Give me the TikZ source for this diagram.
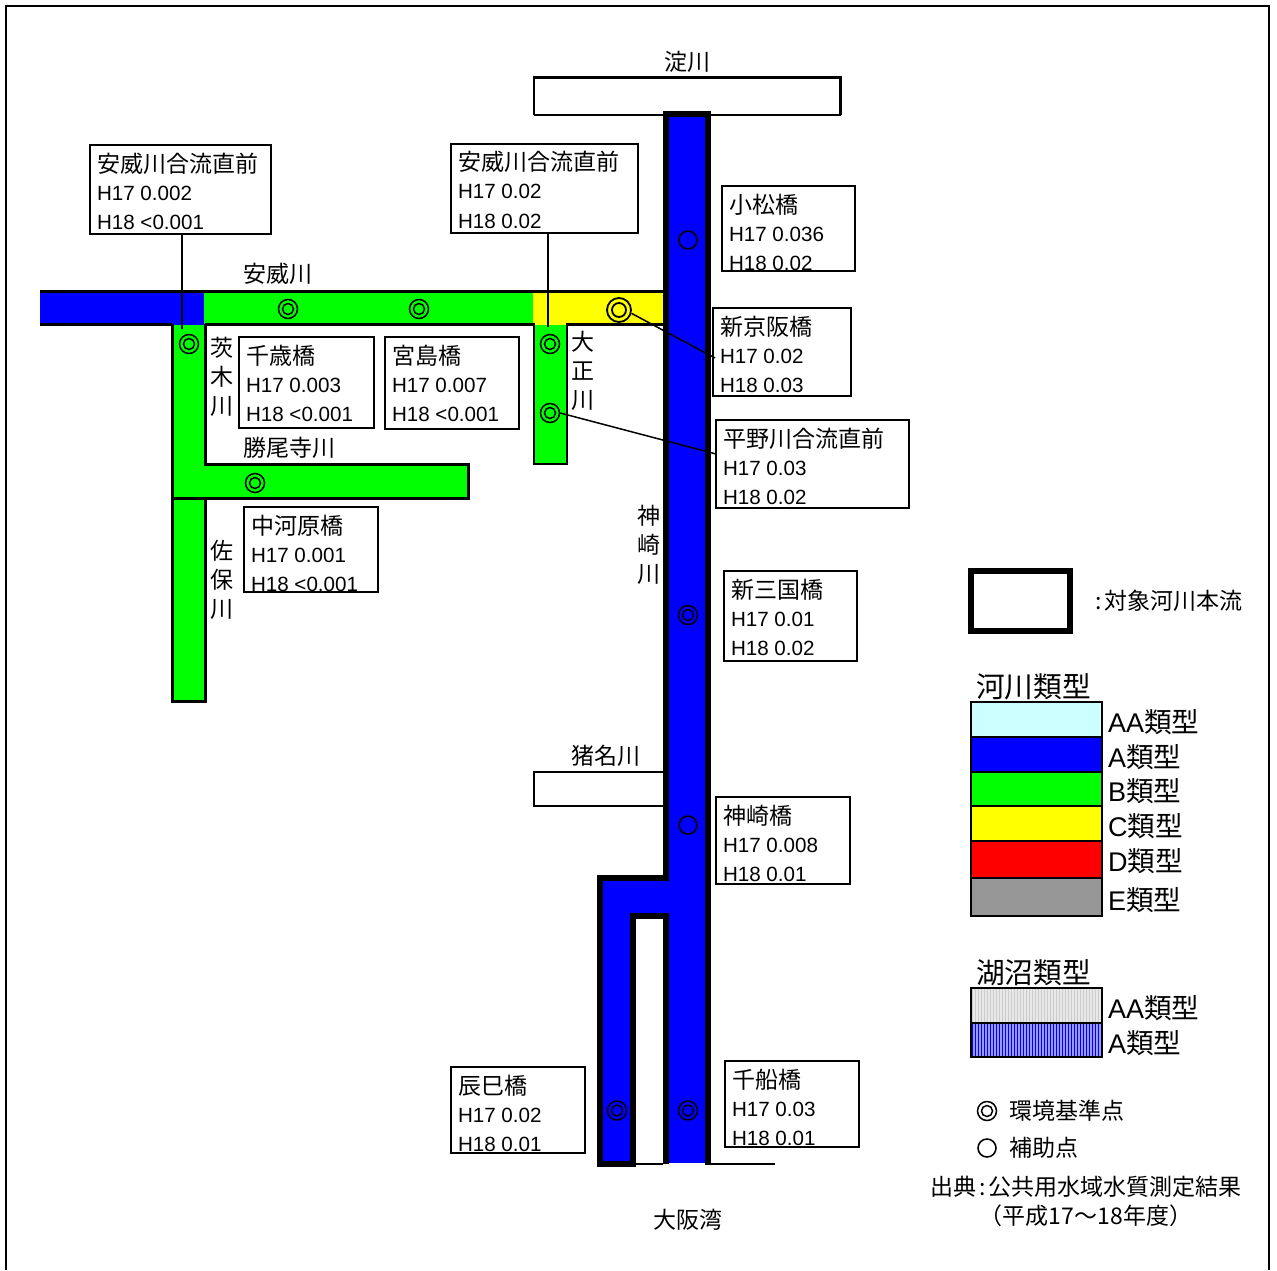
\documentclass[tikz,border=0pt]{standalone}
\usepackage{fontspec}
\setmainfont{Liberation Sans}
\newfontfamily\jpfont{Noto Sans CJK JP}
\definecolor{riverA}{RGB}{0,0,255}
\definecolor{riverB}{RGB}{0,255,0}
\definecolor{riverC}{RGB}{255,255,0}
\definecolor{riverD}{RGB}{255,0,0}
\definecolor{riverE}{RGB}{150,150,150}
\definecolor{riverAA}{RGB}{204,255,255}
\newcommand{\jpsmall}{\jpfont\fontsize{23}{29.2}\selectfont}
\newcommand{\jplarge}{\jpfont\fontsize{27.6}{34}\selectfont}
\newcommand{\jphead}{\jpfont\fontsize{28.7}{34}\selectfont}
\tikzset{
  river/.style={line width=6pt,line cap=butt,line join=miter},
  bank/.style={line width=3pt,line cap=butt},
  thinbank/.style={line width=2pt,line cap=butt},
  gaugebox/.style={draw,line width=2pt,fill=white,inner sep=0pt,outer sep=0pt},
  gaugetext/.style={align=left,inner sep=0pt,font=\fontsize{20.6}{29.2}\selectfont},
  rivername/.style={inner sep=0pt,align=center,font=\jpsmall},
  station/.style={circle,draw,line width=1.5pt,minimum size=19pt,inner sep=0pt,
    path picture={\draw[line width=1.5pt] (path picture bounding box.center) circle (5.5pt);}},
  bigstation/.style={station,minimum size=24pt,line width=1.8pt,
    path picture={\draw[line width=1.8pt] (path picture bounding box.center) circle (7pt);}},
  auxpoint/.style={circle,draw,line width=1.6pt,minimum size=18pt,inner sep=0pt},
  swatch/.style={draw,line width=2.5pt},
  legendtext/.style={anchor=west,inner sep=0pt,font=\fontsize{27}{32}\selectfont},
  legendhead/.style={anchor=west,inner sep=0pt,font=\jphead},
}
\newcommand{\gaugenote}[8]{
  \node[gaugebox,anchor=north west,minimum width=#4pt,minimum height=#5pt] (#1) at (#2,#3) {};
  \node[gaugetext,anchor=north west] (#1text) at ([xshift=6.8pt,yshift=-6pt]#1.north west)
    {{\jpsmall\rule{0pt}{20pt}\raisebox{-1pt}{#6}}\\#7\\#8};
}
\begin{document}
\begin{tikzpicture}[x=1pt,y=-1pt]
\useasboundingbox (0,0) rectangle (1277,1270);
\draw[line width=2pt] (6,1270)--(6,6)--(1269,6)--(1269,1270);

% water
\fill[riverA] (40,291) rectangle (204,325);
\fill[riverB] (204,291) rectangle (533,325);
\fill[riverC] (533,291) rectangle (666,325);
\fill[riverB] (173,325) rectangle (205,702);
\fill[riverB] (205,465) rectangle (468,498);
\fill[riverB] (534,325) rectangle (567,464);
\fill[riverA] (666,115) rectangle (708,1163);
\fill[riverA] (600,878) rectangle (666,916);
\fill[riverA] (600,916) rectangle (633,1163);

% banks
\draw[thinbank] (533.5,115)--(533.5,77)--(840,77)--(840,115)--(533.5,115);
\draw[bank] (533,77)--(841,77) (840,76)--(840,115);
\draw[thinbank] (664,771.5)--(533.5,771.5)--(533.5,806)--(664,806);
\draw[bank] (40,291)--(664,291);
\draw[bank] (40,324.5)--(172,324.5) (205,324.5)--(535,324.5) (566,324.5)--(664,324.5);
\draw[bank] (172,324)--(172,701.5)--(205.5,701.5)--(205.5,498);
\draw[bank] (205.5,324)--(205.5,464)--(468.3,464)--(468.3,498.5)--(172,498.5);
\draw[thinbank] (534,325)--(534,464)--(567,464)--(567,325);
\draw[river] (666,881)--(666,114)--(708,114)--(708,1165);
\draw[river] (669,878)--(600,878)--(600,1164)--(633,1164)--(633,916)--(669,916)--(666,916)--(666,1164);
\draw[thinbank] (636,1163.5)--(663,1163.5);
\draw[thinbank] (711,1163.5)--(775,1163.5);

% points
\node[station] (chitosept) at (288,309) {};
\node[station] (miyajimapt) at (419,309) {};
\node[station] (ibarakipt) at (189,344) {};
\node[station] (taisho1pt) at (550,344) {};
\node[station] (taisho2pt) at (550,413) {};
\node[station] (nakagawarapt) at (255,483) {};
\node[bigstation] (shinkeihanpt) at (619,310) {};
\node[auxpoint] (komatsupt) at (688,240) {};
\node[station] (shinmikunipt) at (688,615) {};
\node[auxpoint] (kanzakipt) at (688,825) {};
\node[station] (senbopt) at (688,1110.5) {};
\node[station] (tatsumipt) at (617,1110.5) {};

% notes
\gaugenote{aigawaL}{90}{145}{181}{89}{安威川合流直前}{H17 0.002}{H18 <0.001}
\gaugenote{aigawaR}{451}{143.5}{187}{89}{安威川合流直前}{H17 0.02}{H18 0.02}
\gaugenote{komatsu}{722}{186}{133}{85}{小松橋}{H17 0.036}{H18 0.02}
\gaugenote{shinkeihan}{713}{308}{138}{88}{新京阪橋}{H17 0.02}{H18 0.03}
\gaugenote{hirano}{716}{420}{193}{88}{平野川合流直前}{H17 0.03}{H18 0.02}
\gaugenote{chitose}{239}{337}{135}{91}{千歳橋}{H17 0.003}{H18 <0.001}
\gaugenote{miyajima}{385}{337}{134}{92}{宮島橋}{H17 0.007}{H18 <0.001}
\gaugenote{nakagawara}{244}{507}{134}{85}{中河原橋}{H17 0.001}{H18 <0.001}
\gaugenote{shinmikuni}{724}{571}{133}{90}{新三国橋}{H17 0.01}{H18 0.02}
\gaugenote{kanzaki}{716}{797}{134}{87}{神崎橋}{H17 0.008}{H18 0.01}
\gaugenote{tatsumi}{451}{1067}{134}{86}{辰巳橋}{H17 0.02}{H18 0.01}
\gaugenote{senbo}{725}{1061}{134}{86}{千船橋}{H17 0.03}{H18 0.01}

% leaders
\coordinate (aigawaLend) at (182,329);
\coordinate (aigawaRend) at (548,327);
\coordinate (shinkeihanend) at (715,358);
\coordinate (hiranoend) at (716,454);
\draw[line width=1.5pt] (aigawaL.south -| aigawaLend) -- (aigawaLend);
\draw[line width=1.5pt] (aigawaR.south -| aigawaRend) -- (aigawaRend);
\draw[line width=1.5pt] (shinkeihanpt.-15) -- (shinkeihanend);
\draw[line width=1.5pt] (taisho2pt.east) -- (hiranoend);

% river names
\node[rivername] (yodo) at (687.5,62) {淀川};
\node[rivername] (aigawa) at (277.5,274) {安威川};
\node[rivername] (katsuoji) at (289.5,448) {勝尾寺川};
\node[rivername] (inagawa) at (606,756) {猪名川};
\node[rivername] (osakawan) at (688,1220) {大阪湾};
\node[rivername] (ibaraki) at (222,377) {茨\\木\\川};
\node[rivername] (saho) at (222,580) {佐\\保\\川};
\node[rivername] (taisho) at (583,371) {大\\正\\川};
\node[rivername] (kanzaki) at (649,545) {神\\崎\\川};

% legend
\draw[line width=6pt] (971,571) rectangle (1070,631);
\node[rivername,anchor=west] (mainstream) at (1094,601) {\hspace{1pt}:\hspace{3pt}対象河川本流};
\node[legendhead] (riverhead) at (976,687) {河川類型};
\filldraw[swatch,fill=riverAA] (971,702) rectangle (1102,737);
\filldraw[swatch,fill=riverA] (971,737) rectangle (1102,772);
\filldraw[swatch,fill=riverB] (971,772) rectangle (1102,806);
\filldraw[swatch,fill=riverC] (971,806) rectangle (1102,841);
\filldraw[swatch,fill=riverD] (971,841) rectangle (1102,878);
\filldraw[swatch,fill=riverE] (971,878) rectangle (1102,916);
\node[legendtext] (typeAA) at (1108,722) {AA{\jplarge 類型}};
\node[legendtext] (typeA) at (1108,757) {A{\jplarge 類型}};
\node[legendtext] (typeB) at (1108,791) {B{\jplarge 類型}};
\node[legendtext] (typeC) at (1108,826) {C{\jplarge 類型}};
\node[legendtext] (typeD) at (1108,861) {D{\jplarge 類型}};
\node[legendtext] (typeE) at (1108,900) {E{\jplarge 類型}};
\node[legendhead] (lakehead) at (976,973) {湖沼類型};
\fill[gray!18] (971,988) rectangle (1102,1023);
\fill[blue!40] (971,1023) rectangle (1102,1057);
\foreach \lx in {972,975,...,1101} {
  \draw[gray!40,line width=1pt] (\lx,988)--(\lx,1023);
  \draw[blue,line width=1pt] (\lx,1023)--(\lx,1057);
}
\draw[swatch] (971,988) rectangle (1102,1023);
\draw[swatch] (971,1023) rectangle (1102,1057);
\node[legendtext] (lakeAA) at (1108,1008) {AA{\jplarge 類型}};
\node[legendtext] (lakeA) at (1108,1043) {A{\jplarge 類型}};
\node[station] (markstation) at (987,1111) {};
\node[rivername,anchor=west] (markstationtext) at (1009,1111) {環境基準点};
\node[auxpoint] (markaux) at (987,1148) {};
\node[rivername,anchor=west] (markauxtext) at (1009,1148) {補助点};
\node[rivername] (source) at (1086,1201.5) {出典\hspace{2.5pt}:\hspace{2.5pt}公共用水域水質測定結果\\（平成17～18年度）};
\end{tikzpicture}
\end{document}
